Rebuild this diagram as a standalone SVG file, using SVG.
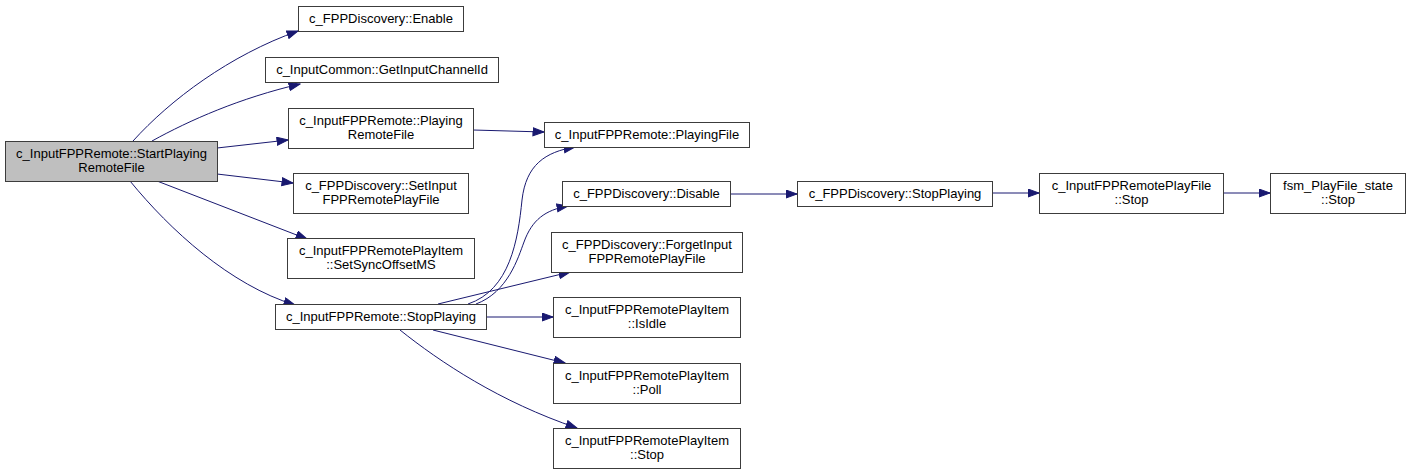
<svg xmlns="http://www.w3.org/2000/svg" width="1409" height="474" viewBox="0 0 1409 474">
<style>
  .node rect { fill: #ffffff; stroke: #3c3c3c; stroke-width: 1; }
  .node.hl rect { fill: #bfbfbf; }
  .node text { font-family: "Liberation Sans", Arial, sans-serif; font-size: 13px; fill: #000000; text-anchor: middle; }
  .edges path { fill: none; stroke: #191970; stroke-width: 1; marker-end: url(#arr); }
</style>
<defs>
  <marker id="arr" markerUnits="userSpaceOnUse" markerWidth="13" markerHeight="10" refX="11.5" refY="4.5" orient="auto">
    <path d="M0.5,0.5 L11.5,4.5 L0.5,8.5 z" fill="#191970" stroke="#191970" stroke-width="1"/>
  </marker>
</defs>
<rect x="0" y="0" width="1409" height="474" fill="#ffffff"/>
<g class="edges" id="edges">
  <path d="M133,141 C170,100 230,55 298,31"/>
  <path d="M152,141 C190,120 240,98 300,84"/>
  <path d="M217,148 L288,140"/>
  <path d="M217,174 L293,183"/>
  <path d="M157,181 L307,239"/>
  <path d="M130,181 C170,230 230,285 295,305"/>
  <path d="M473,130 L544,132"/>
  <path d="M468,304 C510,290 518,240 522,200 C526,165 545,152 575,147"/>
  <path d="M476,304 C508,292 518,258 524,242 C532,220 545,210 568,206"/>
  <path d="M438,304 L570,272"/>
  <path d="M486,317 L553,317"/>
  <path d="M433,330 L565,363"/>
  <path d="M400,330 C440,362 500,402 577,428"/>
  <path d="M730,194 L797,194"/>
  <path d="M992,193 L1039,193"/>
  <path d="M1223,193 L1270,193"/>
</g>
<g class="node hl" id="n_start"><rect x="5.5" y="141.5" width="212" height="40"/><text x="111.5" y="158">c_InputFPPRemote::StartPlaying</text><text x="111.5" y="172">RemoteFile</text></g>
<g class="node" id="n_enable"><rect x="298.5" y="6.5" width="165" height="25"/><text x="381" y="23">c_FPPDiscovery::Enable</text></g>
<g class="node" id="n_getch"><rect x="265.5" y="57.5" width="233" height="25"/><text x="382" y="74">c_InputCommon::GetInputChannelId</text></g>
<g class="node" id="n_prf"><rect x="288.5" y="108.5" width="185" height="40"/><text x="381" y="125">c_InputFPPRemote::Playing</text><text x="381" y="139">RemoteFile</text></g>
<g class="node" id="n_setinput"><rect x="293.5" y="173.5" width="175" height="40"/><text x="381" y="190">c_FPPDiscovery::SetInput</text><text x="381" y="204">FPPRemotePlayFile</text></g>
<g class="node" id="n_setsync"><rect x="287.5" y="238.5" width="187" height="40"/><text x="381" y="255">c_InputFPPRemotePlayItem</text><text x="381" y="269">::SetSyncOffsetMS</text></g>
<g class="node" id="n_stopplaying"><rect x="275.5" y="304.5" width="211" height="25"/><text x="381" y="321">c_InputFPPRemote::StopPlaying</text></g>
<g class="node" id="n_playingfile"><rect x="544.5" y="122.5" width="205" height="25"/><text x="647" y="139">c_InputFPPRemote::PlayingFile</text></g>
<g class="node" id="n_disable"><rect x="562.5" y="181.5" width="168" height="25"/><text x="646.5" y="198">c_FPPDiscovery::Disable</text></g>
<g class="node" id="n_forget"><rect x="551.5" y="232.5" width="191" height="40"/><text x="647" y="249">c_FPPDiscovery::ForgetInput</text><text x="647" y="263">FPPRemotePlayFile</text></g>
<g class="node" id="n_isidle"><rect x="553.5" y="297.5" width="187" height="40"/><text x="647" y="314">c_InputFPPRemotePlayItem</text><text x="647" y="328">::IsIdle</text></g>
<g class="node" id="n_poll"><rect x="553.5" y="363.5" width="187" height="40"/><text x="647" y="380">c_InputFPPRemotePlayItem</text><text x="647" y="394">::Poll</text></g>
<g class="node" id="n_pistop"><rect x="553.5" y="428.5" width="187" height="40"/><text x="647" y="445">c_InputFPPRemotePlayItem</text><text x="647" y="459">::Stop</text></g>
<g class="node" id="n_dstop"><rect x="797.5" y="181.5" width="195" height="25"/><text x="895" y="198">c_FPPDiscovery::StopPlaying</text></g>
<g class="node" id="n_pfstop"><rect x="1039.5" y="173.5" width="184" height="40"/><text x="1131.5" y="190">c_InputFPPRemotePlayFile</text><text x="1131.5" y="204">::Stop</text></g>
<g class="node" id="n_fsm"><rect x="1270.5" y="173.5" width="135" height="40"/><text x="1338" y="190">fsm_PlayFile_state</text><text x="1338" y="204">::Stop</text></g>
</svg>
